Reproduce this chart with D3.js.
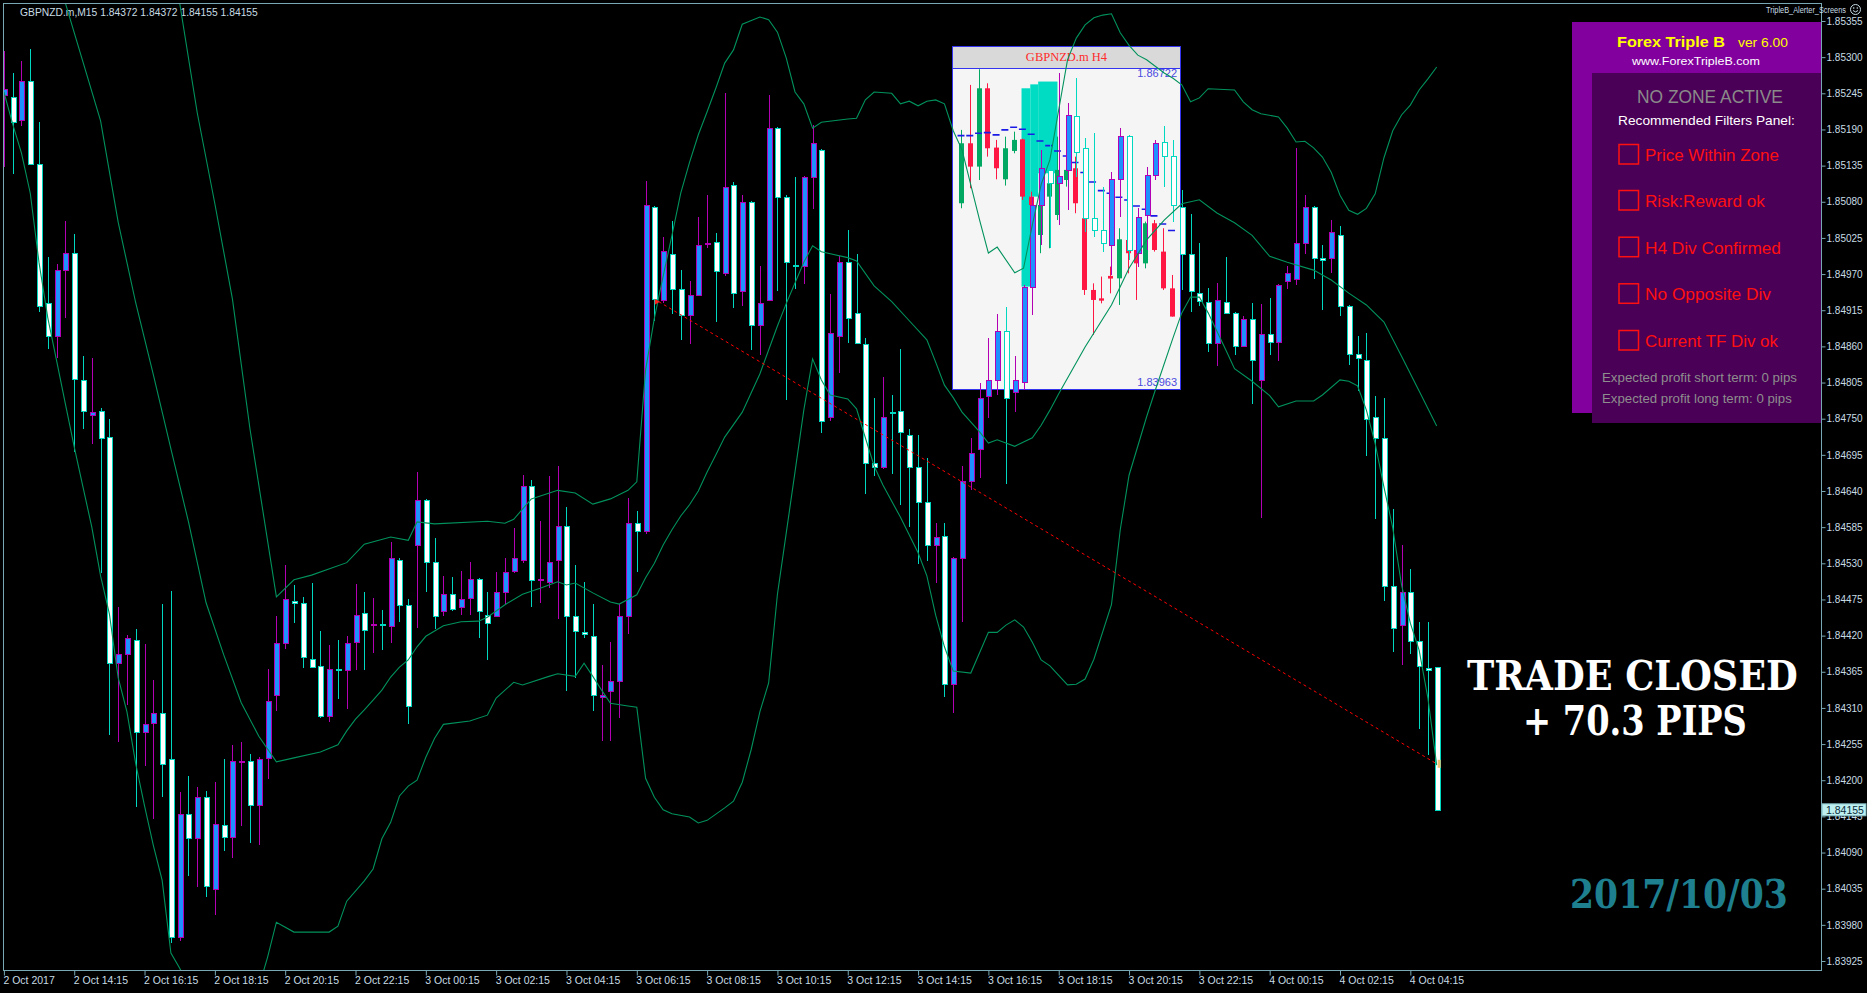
<!DOCTYPE html>
<html><head><meta charset="utf-8">
<script src="https://cdn.jsdelivr.net/npm/d3@7/dist/d3.min.js"></script>
<style>html,body{margin:0;padding:0;background:#000;overflow:hidden}svg{display:block}</style>
</head><body>
<svg id="chart" width="1867" height="993"></svg>
<script>
// ---------------- DATA ----------------
const symbolLabel = "GBPNZD.m,M15";
const headerValues = ["1.84372", "1.84372", "1.84155", "1.84155"];
const cornerLabel = "TripleB_Alerter_Screens";

const timeTickBars = [0,8,16,24,32,40,48,56,64,72,80,88,96,104,112,120,128,136,144,152,160];
const timeLabels = ["2 Oct 2017","2 Oct 14:15","2 Oct 16:15","2 Oct 18:15","2 Oct 20:15","2 Oct 22:15",
  "3 Oct 00:15","3 Oct 02:15","3 Oct 04:15","3 Oct 06:15","3 Oct 08:15","3 Oct 10:15","3 Oct 12:15",
  "3 Oct 14:15","3 Oct 16:15","3 Oct 18:15","3 Oct 20:15","3 Oct 22:15","4 Oct 00:15","4 Oct 02:15","4 Oct 04:15"];
const priceTicks = ["1.85355","1.85300","1.85245","1.85190","1.85135","1.85080","1.85025","1.84970","1.84915",
  "1.84860","1.84805","1.84750","1.84695","1.84640","1.84585","1.84530","1.84475","1.84420","1.84365",
  "1.84310","1.84255","1.84200","1.84145","1.84090","1.84035","1.83980","1.83925"];

const opens = [
1.85242,1.85240,1.85204,1.85264,1.85137,1.84926,1.84876,1.84976,1.85002,1.84809,
1.84755,1.84761,1.84722,1.84379,1.84392,1.84414,1.84274,1.84287,1.84302,1.84233,
1.83961,1.84149,1.84112,1.84174,1.84035,1.84132,1.84114,1.84228,1.84230,1.84162,
1.84234,1.84329,1.84409,1.84473,1.84470,1.84385,1.84374,1.84297,1.84369,1.84367,
1.84410,1.84454,1.84436,1.84438,1.84434,1.84535,1.84466,1.84558,1.84626,1.84532,
1.84457,1.84484,1.84464,1.84477,1.84506,1.84452,1.84450,1.84487,1.84518,1.84535,
1.84648,1.84504,1.84502,1.84535,1.84586,1.84450,1.84425,1.84420,1.84327,1.84335,
1.84351,1.84450,1.84592,1.84579,1.85072,1.84931,1.85000,1.84947,1.84908,1.84938,
1.85015,1.85019,1.84971,1.85106,1.84944,1.85079,1.84893,1.84931,1.85192,1.85088,
1.84984,1.84982,1.85117,1.85159,1.84753,1.84876,1.84989,1.84911,1.84863,1.84682,
1.84676,1.84760,1.84761,1.84725,1.84676,1.84624,1.84558,1.84572,1.84346,1.84538,
1.84655,1.84704,1.84785,1.84809,1.84883,1.84791,1.84806,1.84950,1.85075,1.85128,
1.85109,1.85128,1.85210,1.85162,1.85055,1.85037,1.85014,1.85115,1.85180,1.85002,
1.85060,1.85121,1.85171,1.85150,1.85072,1.85001,1.84941,1.84928,1.84865,1.84928,
1.84911,1.84861,1.84902,1.84809,1.84879,1.84866,1.84960,1.84962,1.85018,1.85072,
1.84995,1.84994,1.85030,1.84921,1.84849,1.84840,1.84752,1.84720,1.84496,1.84436,
1.84487,1.84412,1.84371,1.84372];
const highs = [
1.85309,1.85276,1.85294,1.85312,1.85201,1.84996,1.84986,1.85050,1.85031,1.84845,
1.84842,1.84766,1.84750,1.84463,1.84421,1.84430,1.84407,1.84353,1.84468,1.84488,
1.84182,1.84207,1.84189,1.84183,1.84197,1.84233,1.84254,1.84258,1.84240,1.84236,
1.84369,1.84450,1.84527,1.84497,1.84478,1.84500,1.84427,1.84405,1.84414,1.84419,
1.84499,1.84486,1.84477,1.84459,1.84562,1.84538,1.84475,1.84669,1.84628,1.84568,
1.84511,1.84509,1.84518,1.84532,1.84507,1.84486,1.84517,1.84538,1.84583,1.84664,
1.84657,1.84594,1.84663,1.84678,1.84615,1.84527,1.84502,1.84468,1.84376,1.84410,
1.84468,1.84630,1.84610,1.85111,1.85074,1.85027,1.85050,1.84976,1.84960,1.85057,
1.85091,1.85032,1.85246,1.85110,1.85090,1.85081,1.84983,1.85242,1.85194,1.85090,
1.85117,1.85119,1.85197,1.85161,1.84940,1.84998,1.85037,1.85000,1.84872,1.84782,
1.84813,1.84786,1.84856,1.84735,1.84725,1.84690,1.84592,1.84592,1.84540,1.84678,
1.84720,1.84804,1.84873,1.84909,1.84920,1.84845,1.84953,1.85087,1.85159,1.85174,
1.85276,1.85230,1.85268,1.85177,1.85185,1.85102,1.85125,1.85192,1.85182,1.85071,
1.85133,1.85174,1.85195,1.85174,1.85098,1.85061,1.85018,1.84949,1.84956,1.84996,
1.84912,1.84906,1.84926,1.84924,1.84933,1.84955,1.84982,1.85162,1.85090,1.85074,
1.85014,1.85052,1.85043,1.84923,1.84876,1.84881,1.84784,1.84782,1.84613,1.84558,
1.84522,1.84441,1.84441,1.84372];
const lows = [
1.85133,1.85122,1.85195,1.85136,1.84912,1.84856,1.84842,1.84903,1.84700,1.84735,
1.84711,1.84515,1.84269,1.84258,1.84315,1.84159,1.84222,1.84141,1.84175,1.83952,
1.83956,1.84055,1.84037,1.84022,1.83995,1.84093,1.84081,1.84130,1.84105,1.84102,
1.84202,1.84305,1.84400,1.84439,1.84371,1.84371,1.84294,1.84288,1.84324,1.84308,
1.84367,1.84367,1.84394,1.84398,1.84409,1.84441,1.84285,1.84432,1.84486,1.84430,
1.84450,1.84457,1.84452,1.84452,1.84416,1.84383,1.84448,1.84466,1.84515,1.84531,
1.84464,1.84470,1.84493,1.84446,1.84335,1.84356,1.84416,1.84306,1.84260,1.84260,
1.84294,1.84423,1.84517,1.84574,1.84899,1.84926,1.84910,1.84870,1.84863,1.84937,
1.85010,1.84897,1.84967,1.84919,1.84921,1.84854,1.84847,1.84929,1.84944,1.84779,
1.84947,1.84955,1.85069,1.84728,1.84746,1.84820,1.84865,1.84863,1.84635,1.84663,
1.84673,1.84666,1.84619,1.84585,1.84529,1.84534,1.84500,1.84326,1.84303,1.84441,
1.84642,1.84660,1.84751,1.84786,1.84651,1.84760,1.84794,1.84908,1.85014,1.85010,
1.85045,1.85067,1.85118,1.85034,1.85026,1.85004,1.84969,1.85057,1.84991,1.84981,
1.85007,1.85113,1.85102,1.85049,1.84946,1.84912,1.84921,1.84852,1.84830,1.84909,
1.84847,1.84860,1.84773,1.84599,1.84847,1.84838,1.84947,1.84953,1.85000,1.84962,
1.84915,1.84971,1.84906,1.84831,1.84792,1.84693,1.84597,1.84473,1.84395,1.84376,
1.84392,1.84278,1.84238,1.84155];
const closes = [
1.85251,1.85201,1.85263,1.85138,1.84921,1.84876,1.84976,1.85002,1.84810,1.84761,
1.84760,1.84720,1.84379,1.84392,1.84416,1.84274,1.84285,1.84303,1.84225,1.83961,
1.84149,1.84112,1.84174,1.84039,1.84134,1.84114,1.84229,1.84230,1.84162,1.84233,
1.84321,1.84409,1.84475,1.84469,1.84387,1.84373,1.84297,1.84369,1.84367,1.84409,
1.84452,1.84428,1.84438,1.84436,1.84538,1.84466,1.84313,1.84626,1.84532,1.84450,
1.84484,1.84461,1.84475,1.84506,1.84457,1.84439,1.84486,1.84517,1.84538,1.84648,
1.84505,1.84506,1.84532,1.84586,1.84450,1.84427,1.84422,1.84329,1.84329,1.84351,
1.84450,1.84592,1.84579,1.85075,1.84932,1.85005,1.84947,1.84908,1.84938,1.85014,
1.85018,1.84975,1.85102,1.84941,1.85079,1.84893,1.84926,1.85192,1.85088,1.84989,
1.84982,1.85117,1.85170,1.84746,1.84881,1.84989,1.84903,1.84865,1.84682,1.84676,
1.84752,1.84758,1.84730,1.84676,1.84624,1.84558,1.84570,1.84346,1.84538,1.84655,
1.84698,1.84782,1.84809,1.84883,1.84782,1.84809,1.84950,1.85075,1.85131,1.85109,
1.85119,1.85212,1.85156,1.85055,1.85037,1.85017,1.85115,1.85180,1.85007,1.85057,
1.85121,1.85169,1.85150,1.85075,1.85000,1.84944,1.84929,1.84865,1.84931,1.84911,
1.84861,1.84902,1.84839,1.84879,1.84866,1.84953,1.84971,1.85018,1.85072,1.84994,
1.84992,1.85034,1.84921,1.84849,1.84842,1.84750,1.84720,1.84496,1.84432,1.84487,
1.84412,1.84374,1.84367,1.84155];

// Bollinger bands: [bar, price] vertices
const upperBand = [[0,1.86135],[10,1.85910],[17,1.85530],[20,1.85382],[22,1.85215],[24,1.85077],[26,1.84932],[28,1.84734],[31,1.84479],[33,1.84505],[35,1.84512],[39,1.84531],[41,1.84559],[44,1.84570],[46,1.84565],[47,1.84593],[49,1.84590],[55,1.84594],[57,1.84591],[58,1.84597],[60,1.84628],[63,1.84641],[65,1.84637],[67,1.84620],[69,1.84628],[71,1.84641],[72,1.84654],[73,1.84824],[74,1.84903],[75,1.84967],[76,1.85029],[77,1.85093],[78,1.85140],[79,1.85182],[80,1.85217],[81,1.85253],[82,1.85291],[83,1.85311],[84,1.85350],[86,1.85361],[87,1.85357],[88,1.85338],[89,1.85299],[90,1.85247],[91,1.85229],[92,1.85192],[93,1.85201],[96,1.85206],[97,1.85207],[98,1.85235],[99,1.85247],[101,1.85245],[102,1.85229],[103,1.85233],[104,1.85226],[105,1.85233],[106,1.85235],[107,1.85229],[108,1.85188],[109,1.85159],[111,1.85052],[112,1.85002],[113,1.85011],[115,1.84972],[116,1.84979],[117,1.85045],[118,1.85106],[119,1.85144],[120,1.85220],[121,1.85296],[122,1.85329],[123,1.85349],[124,1.85360],[125,1.85364],[126,1.85366],[127,1.85337],[128,1.85318],[129,1.85303],[130,1.85296],[132,1.85276],[133,1.85268],[134,1.85258],[135,1.85232],[136,1.85238],[137,1.85252],[140,1.85250],[141,1.85232],[142,1.85220],[143,1.85214],[145,1.85209],[146,1.85192],[147,1.85171],[148,1.85172],[149,1.85162],[150,1.85148],[151,1.85125],[152,1.85090],[153,1.85067],[154,1.85061],[155,1.85070],[156,1.85092],[157,1.85147],[158,1.85188],[159,1.85212],[160,1.85227],[161,1.85250],[162,1.85267],[163,1.85285]];
const middleBand = [[0,1.85697],[7,1.85382],[11,1.85203],[13,1.85049],[15,1.84926],[17,1.84817],[19,1.84704],[21,1.84593],[23,1.84470],[25,1.84391],[27,1.84318],[29,1.84267],[31,1.84228],[33,1.84234],[36,1.84243],[38,1.84254],[39,1.84275],[40,1.84293],[41,1.84307],[42,1.84322],[43,1.84337],[44,1.84357],[45,1.84372],[46,1.84383],[47,1.84403],[48,1.84419],[50,1.84435],[52,1.84441],[54,1.84442],[55,1.84448],[57,1.84467],[59,1.84483],[61,1.84492],[63,1.84502],[64,1.84497],[65,1.84500],[67,1.84485],[69,1.84471],[70,1.84468],[72,1.84482],[73,1.84508],[74,1.84530],[75,1.84558],[76,1.84581],[77,1.84602],[78,1.84619],[79,1.84640],[80,1.84669],[81,1.84695],[82,1.84722],[84,1.84760],[86,1.84818],[88,1.84891],[89,1.84925],[91,1.84988],[92,1.85013],[93,1.85004],[96,1.84995],[97,1.84990],[99,1.84952],[101,1.84928],[103,1.84899],[105,1.84870],[106,1.84836],[107,1.84801],[108,1.84782],[109,1.84760],[111,1.84730],[112,1.84713],[113,1.84718],[115,1.84708],[117,1.84721],[118,1.84740],[119,1.84763],[120,1.84788],[123,1.84859],[126,1.84923],[128,1.84979],[130,1.85022],[132,1.85052],[134,1.85077],[136,1.85083],[138,1.85063],[140,1.85048],[142,1.85029],[144,1.84997],[146,1.84988],[149,1.84976],[151,1.84961],[153,1.84941],[155,1.84923],[157,1.84897],[159,1.84845],[161,1.84792],[163,1.84739]];
const lowerBand = [[0,1.85247],[1,1.85198],[2,1.85154],[3,1.85093],[4,1.84987],[5,1.84903],[6,1.84838],[7,1.84772],[8,1.84707],[9,1.84646],[10,1.84585],[11,1.84511],[12,1.84453],[13,1.84356],[14,1.84304],[15,1.84225],[16,1.84161],[17,1.84101],[18,1.84048],[19,1.83937],[20,1.83914],[21,1.83888],[23,1.83794],[26,1.83778],[28,1.83852],[29,1.83885],[30,1.83931],[31,1.83984],[33,1.83969],[37,1.83969],[38,1.83978],[39,1.84016],[41,1.84047],[42,1.84065],[43,1.84111],[44,1.84136],[45,1.84176],[46,1.84191],[47,1.84200],[48,1.84235],[49,1.84264],[50,1.84285],[53,1.84290],[55,1.84299],[56,1.84325],[58,1.84349],[59,1.84345],[62,1.84358],[63,1.84362],[65,1.84358],[66,1.84378],[67,1.84358],[68,1.84337],[69,1.84317],[71,1.84313],[72,1.84311],[73,1.84203],[74,1.84174],[75,1.84155],[76,1.84149],[78,1.84144],[79,1.84135],[80,1.84139],[82,1.84158],[83,1.84168],[84,1.84197],[85,1.84246],[86,1.84304],[87,1.84348],[88,1.84483],[89,1.84576],[90,1.84669],[91,1.84763],[92,1.84841],[93,1.84809],[94,1.84786],[96,1.84780],[97,1.84765],[98,1.84721],[99,1.84678],[100,1.84649],[102,1.84600],[104,1.84546],[105,1.84511],[106,1.84451],[107,1.84403],[108,1.84366],[110,1.84363],[112,1.84425],[113,1.84425],[114,1.84436],[115,1.84444],[116,1.84433],[117,1.84410],[118,1.84383],[119,1.84374],[121,1.84345],[122,1.84346],[123,1.84354],[124,1.84384],[126,1.84467],[127,1.84581],[128,1.84664],[130,1.84753],[131,1.84794],[133,1.84873],[134,1.84911],[135,1.84935],[136,1.84935],[137,1.84911],[138,1.84883],[139,1.84855],[140,1.84826],[142,1.84807],[144,1.84785],[145,1.84768],[147,1.84777],[149,1.84777],[150,1.84786],[152,1.84809],[153,1.84807],[154,1.84800],[155,1.84763],[156,1.84712],[157,1.84646],[158,1.84584],[159,1.84497],[160,1.84439],[161,1.84398],[162,1.84325],[163,1.84223]];

// trade (short) line
const tradeOpenBar = 74.5, tradeOpenPrice = 1.84928;
const tradeCloseBar = 163, tradeClosePrice = 1.84225;
const bidPrice = 1.84155;

// H4 inset chart
const insetTitle = "GBPNZD.m H4";
const insetMax = 1.86722, insetMin = 1.83963;
const insetOpen  = [1.85561,1.86077,1.85876,1.86550,1.86040,1.85767,1.86011,1.86111,1.85618,1.85288,1.85618,1.85460,1.85761,1.85862,1.85432,1.84815,1.84743,1.84936,1.84915,1.85245,1.85159,1.85044,1.85389,1.85145,1.84829];
const insetHigh  = [1.86192,1.86579,1.86714,1.86593,1.86106,1.86134,1.86177,1.86117,1.85661,1.85589,1.85819,1.86134,1.85905,1.85962,1.85475,1.84872,1.84930,1.85016,1.85346,1.85360,1.85360,1.85403,1.85417,1.85346,1.84944];
const insetLow   = [1.85518,1.85690,1.85761,1.85962,1.85767,1.85713,1.85991,1.85589,1.85475,1.85131,1.85174,1.85417,1.85704,1.85475,1.84772,1.84428,1.84700,1.84786,1.84686,1.84958,1.84729,1.85001,1.85145,1.84815,1.84586];
const insetClose = [1.86077,1.85876,1.86550,1.86034,1.85862,1.86034,1.86106,1.85618,1.85546,1.85546,1.85733,1.85848,1.85848,1.85561,1.84815,1.84729,1.84723,1.84913,1.85251,1.85131,1.85044,1.85389,1.85159,1.84829,1.84586];
const insetMA = [1.86143,1.86143,1.86163,1.86169,1.86149,1.86192,1.86215,1.86197,1.86154,1.86097,1.86057,1.86011,1.85968,1.85911,1.85825,1.85744,1.85670,1.85647,1.85612,1.85589,1.85538,1.85509,1.85452,1.85383,1.85326];
const insetZoneFrom = [6.9, 7.9, 8.8];
const insetZoneTo = [7.9, 8.8, 11.0];
const insetZoneTop = [1.86550, 1.86584, 1.86608];
const insetZoneBottom = [1.84844, 1.85618, 1.85819];

// panel texts
const panelTitle = "Forex Triple B", panelVersion = "ver 6.00", panelUrl = "www.ForexTripleB.com";
const panelStatus = "NO ZONE ACTIVE", panelHeading = "Recommended Filters Panel:";
const filterLabels = ["Price Within Zone","Risk:Reward ok","H4 Div Confirmed","No Opposite Div","Current TF Div ok"];
const profitLines = ["Expected profit short term: 0 pips","Expected profit long term: 0 pips"];
const resultLines = ["TRADE CLOSED","+ 70.3 PIPS"];
const dateStamp = "2017/10/03";

// ---------------- DRAW ----------------
const W = 1867, H = 993;
const P = {l:3, t:3, r:1821, b:970};
const svg = d3.select("#chart");
const axisColor = "#78A8B4", labelColor = "#C8DCE4";
const bullFill = "#1E90FF", bullLine = "#B400B4", bearFill = "#FFFFFF", bearLine = "#00D8C0";
const bandColor = "#00925C";
const sans = "'Liberation Sans',Arial,sans-serif";
const serif = "'DejaVu Serif','Liberation Serif',serif";

const x = d3.scaleLinear().domain([0, 163]).range([3.9, 1436.7]);
const y = d3.scaleLinear().domain([1.83925, 1.85355]).range([961, 21]);

// text placed at natural size, then horizontally scaled to a target width
function fitText(parent, str, tx, ty, width, opts) {
  const t = parent.append("text").attr("x", 0).attr("y", 0)
    .attr("fill", opts.fill).style("font-family", opts.family || sans)
    .style("font-size", opts.size + "px").style("font-weight", opts.weight || "normal").text(str);
  const w = t.node().getComputedTextLength() || width;
  t.attr("transform", `translate(${tx},${ty}) scale(${width / w},1)`);
  return t;
}

svg.append("rect").attr("width", W).attr("height", H).attr("fill", "#000");
const defs = svg.append("defs");
defs.append("clipPath").attr("id", "plotClip").append("rect")
  .attr("x", P.l + 1).attr("y", P.t + 1).attr("width", P.r - P.l - 1).attr("height", P.b - P.t - 1);

// frame
svg.append("line").attr("x1", P.l + 0.5).attr("x2", P.l + 0.5).attr("y1", P.t).attr("y2", P.b).attr("stroke", axisColor);
svg.append("line").attr("x1", P.l).attr("x2", P.r).attr("y1", P.t + 0.5).attr("y2", P.t + 0.5).attr("stroke", axisColor);
svg.append("line").attr("x1", P.r + 0.5).attr("x2", P.r + 0.5).attr("y1", P.t).attr("y2", P.b).attr("stroke", axisColor);
svg.append("line").attr("x1", P.l).attr("x2", P.r + 1).attr("y1", P.b + 0.5).attr("y2", P.b + 0.5).attr("stroke", axisColor);

// price axis
const yAxis = d3.axisRight(y).tickValues(priceTicks.map(Number)).tickFormat((d, i) => priceTicks[i])
  .tickSize(4).tickPadding(1).tickSizeOuter(0);
const gy = svg.append("g").attr("transform", `translate(${P.r + 0.5},0)`).call(yAxis);
gy.select(".domain").remove();
gy.selectAll(".tick line").attr("stroke", axisColor);
gy.selectAll(".tick text").attr("fill", labelColor).style("font-family", sans).style("font-size", "10px");

// time axis
const xAxis = d3.axisBottom(x).tickValues(timeTickBars).tickFormat((d, i) => timeLabels[i])
  .tickSize(5).tickPadding(1).tickSizeOuter(0);
const gx = svg.append("g").attr("transform", `translate(0,${P.b + 0.5})`).call(xAxis);
gx.select(".domain").remove();
gx.selectAll(".tick line").attr("stroke", axisColor);
gx.selectAll(".tick text").attr("fill", labelColor).attr("text-anchor", "start").attr("dx", -1)
  .style("font-family", sans).style("font-size", "10.5px");

// header
fitText(svg, symbolLabel + "  " + headerValues.join(" "), 20, 16, 238, {fill: labelColor, size: 11});
fitText(svg, cornerLabel, 1766, 13, 80, {fill: labelColor, size: 9});
const smile = svg.append("g").attr("transform", "translate(1855.5,9.5)");
smile.append("circle").attr("r", 5).attr("fill", "none").attr("stroke", labelColor);
smile.append("circle").attr("cx", -1.8).attr("cy", -1.5).attr("r", 0.8).attr("fill", labelColor);
smile.append("circle").attr("cx", 1.8).attr("cy", -1.5).attr("r", 0.8).attr("fill", labelColor);
smile.append("path").attr("d", "M-2.5,1 Q0,3.8 2.5,1").attr("fill", "none").attr("stroke", labelColor);

// ---------- inset H4 chart (drawn beneath the main series) ----------
const IN = {l:952.5, t:46.5, r:1180.5, b:389.5, bar:68.5};
const xi = d3.scaleLinear().domain([0, 24]).range([961, 1171.5]);
const yi = d3.scaleLinear().domain([insetMin, insetMax]).range([389, 68.3]);
const gi = svg.append("g");
gi.append("rect").attr("x", IN.l).attr("y", IN.t).attr("width", IN.r - IN.l).attr("height", IN.b - IN.t)
  .attr("fill", "#F5F5F5").attr("stroke", "#3434F0");
gi.append("rect").attr("x", IN.l + 0.5).attr("y", IN.t + 0.5).attr("width", IN.r - IN.l - 1).attr("height", IN.bar - IN.t - 1)
  .attr("fill", "#D9D9D9");
gi.append("line").attr("x1", IN.l).attr("x2", IN.r).attr("y1", IN.bar).attr("y2", IN.bar).attr("stroke", "#3434F0");
gi.append("text").attr("x", (IN.l + IN.r) / 2).attr("y", 61).attr("text-anchor", "middle").attr("fill", "#FF2A2A")
  .style("font-family", "'Liberation Serif','Times New Roman',serif").style("font-size", "12.5px").text(insetTitle);
defs.append("clipPath").attr("id", "insetClip").append("rect")
  .attr("x", IN.l + 1).attr("y", IN.bar + 0.5).attr("width", IN.r - IN.l - 2).attr("height", IN.b - IN.bar - 1);
const gic = gi.append("g").attr("clip-path", "url(#insetClip)");
insetZoneFrom.forEach((f, k) => {
  gic.append("rect").attr("x", xi(f)).attr("width", xi(insetZoneTo[k]) - xi(f))
    .attr("y", yi(insetZoneTop[k])).attr("height", yi(insetZoneBottom[k]) - yi(insetZoneTop[k]))
    .attr("fill", "#00DCC4");
});
insetOpen.forEach((o, j) => {
  const c = insetClose[j], up = c >= o, col = up ? "#00A862" : "#FF1744";
  const cx = Math.round(xi(j)) + 0.5;
  gic.append("line").attr("x1", cx).attr("x2", cx).attr("y1", yi(insetHigh[j])).attr("y2", yi(insetLow[j])).attr("stroke", col);
  const top = yi(Math.max(o, c)), bot = yi(Math.min(o, c));
  gic.append("rect").attr("x", cx - 2.5).attr("width", 5).attr("y", top).attr("height", Math.max(1, bot - top)).attr("fill", col);
});
insetMA.forEach((v, j) => {
  gic.append("line").attr("x1", xi(j) - 3.5).attr("x2", xi(j) + 3.5).attr("y1", yi(v)).attr("y2", yi(v))
    .attr("stroke", "#1A1AE6").attr("stroke-width", 1.6);
});
gi.append("text").attr("x", 1177).attr("y", 77).attr("text-anchor", "end").attr("fill", "#4A4AE0")
  .style("font-family", sans).style("font-size", "11px").text(insetMax.toFixed(5));
gi.append("text").attr("x", 1177).attr("y", 386).attr("text-anchor", "end").attr("fill", "#4A4AE0")
  .style("font-family", sans).style("font-size", "11px").text(insetMin.toFixed(5));

// ---------- main candles ----------
const gc = svg.append("g").attr("clip-path", "url(#plotClip)").attr("shape-rendering", "crispEdges");
opens.forEach((o, i) => {
  const c = closes[i], up = c > o;
  const px = Math.round(x(i));
  const line = up ? bullLine : bearLine;
  gc.append("line").attr("x1", px + 0.5).attr("x2", px + 0.5).attr("y1", y(highs[i])).attr("y2", y(lows[i])).attr("stroke", line);
  const top = Math.round(y(Math.max(o, c))), bot = Math.round(y(Math.min(o, c)));
  if (bot - top < 1) {
    gc.append("line").attr("x1", px - 2).attr("x2", px + 4).attr("y1", top + 0.5).attr("y2", top + 0.5).attr("stroke", line);
  } else {
    gc.append("rect").attr("x", px - 1.5).attr("width", 5).attr("y", top + 0.5).attr("height", bot - top)
      .attr("fill", up ? bullFill : bearFill).attr("stroke", line);
  }
});

// ---------- Bollinger bands ----------
const gb = svg.append("g").attr("clip-path", "url(#plotClip)");
const bandLine = d3.line().x(d => x(d[0])).y(d => y(d[1]));
[upperBand, middleBand, lowerBand].forEach(b => {
  gb.append("path").attr("d", bandLine(b)).attr("fill", "none").attr("stroke", bandColor).attr("stroke-width", 1.1);
});

// ---------- trade line ----------
gb.append("line").attr("x1", x(tradeOpenBar)).attr("y1", y(tradeOpenPrice)).attr("x2", x(tradeCloseBar)).attr("y2", y(tradeClosePrice))
  .attr("stroke", "#FF0000").attr("stroke-dasharray", "3,3");
const ex = x(tradeOpenBar), ey = y(tradeOpenPrice);
gb.append("path").attr("d", `M${ex - 4},${ey - 3} L${ex + 1},${ey} L${ex - 4},${ey + 3} Z`).attr("fill", "#FF2020");
gb.append("rect").attr("x", x(tradeCloseBar) + 1).attr("y", y(tradeClosePrice) - 4).attr("width", 3).attr("height", 8).attr("fill", "#F0C070");

// bid label (covers the neighbouring tick label, as in the terminal)
const by = y(bidPrice);
svg.append("rect").attr("x", P.r + 1).attr("y", by - 6).attr("width", 44).attr("height", 12).attr("fill", "#BDEFF0").attr("stroke", "#7FB8C0");
svg.append("text").attr("x", P.r + 5).attr("y", by + 4).attr("fill", "#0A2A3A")
  .style("font-family", sans).style("font-size", "10.5px").text(bidPrice.toFixed(5));

// ---------- Triple B panel ----------
const gp = svg.append("g");
gp.append("rect").attr("x", 1572).attr("y", 22).attr("width", 249).attr("height", 391).attr("fill", "#82009E");
gp.append("rect").attr("x", 1592).attr("y", 73).attr("width", 229).attr("height", 350).attr("fill", "#4A0056");
fitText(gp, panelTitle, 1617, 47, 108, {fill: "#FFFF00", size: 14, weight: "bold"});
fitText(gp, panelVersion, 1738, 47, 50, {fill: "#FFFF00", size: 13});
fitText(gp, panelUrl, 1632, 65, 128, {fill: "#FFFFFF", size: 11});
fitText(gp, panelStatus, 1637, 103, 146, {fill: "#8A8A8A", size: 17.5});
fitText(gp, panelHeading, 1618, 125, 177, {fill: "#FFFFFF", size: 12.5});
const boxTops = [144, 190, 236.7, 283.3, 330];
const labelWidths = [134, 120, 136, 126, 133];
filterLabels.forEach((t, k) => {
  gp.append("rect").attr("x", 1619).attr("y", boxTops[k] + 0.5).attr("width", 19.5).attr("height", 19.5)
    .attr("fill", "none").attr("stroke", "#FF1010").attr("stroke-width", 1.5);
  fitText(gp, t, 1645, boxTops[k] + 17, labelWidths[k], {fill: "#FF1010", size: 17});
});
fitText(gp, profitLines[0], 1602, 381.5, 195, {fill: "#8E8E8E", size: 12});
fitText(gp, profitLines[1], 1602, 402.5, 190, {fill: "#8E8E8E", size: 12});

// ---------- result texts ----------
fitText(svg, resultLines[0], 1467, 690, 331, {fill: "#FFFFFF", size: 41, weight: "bold", family: serif});
fitText(svg, resultLines[1], 1523, 735, 224, {fill: "#FFFFFF", size: 41, weight: "bold", family: serif});
fitText(svg, dateStamp, 1570, 908, 218, {fill: "#1E7F8E", size: 39, weight: "bold", family: serif});
</script>
</body></html>
